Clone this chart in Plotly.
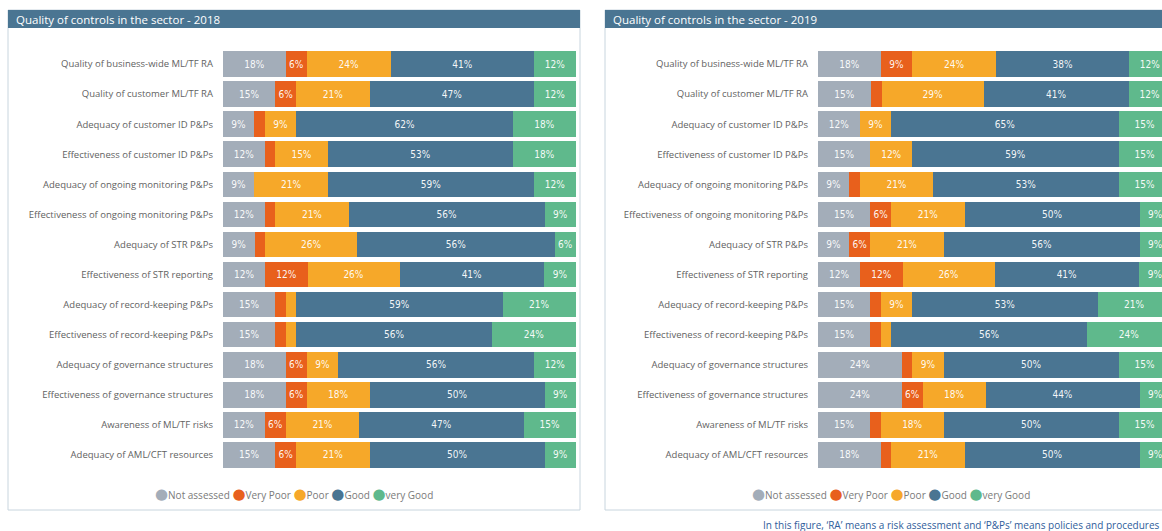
import plotly.graph_objects as go

W, H = 1162, 531

categories = [
    "Quality of business-wide ML/TF RA",
    "Quality of customer ML/TF RA",
    "Adequacy of customer ID P&Ps",
    "Effectiveness of customer ID P&Ps",
    "Adequacy of ongoing monitoring P&Ps",
    "Effectiveness of ongoing monitoring P&Ps",
    "Adequacy of STR P&Ps",
    "Effectiveness of STR reporting",
    "Adequacy of record-keeping P&Ps",
    "Effectiveness of record-keeping P&Ps",
    "Adequacy of governance structures",
    "Effectiveness of governance structures",
    "Awareness of ML/TF risks",
    "Adequacy of AML/CFT resources",
]

series_names = ["Not assessed", "Very Poor", "Poor", "Good", "very Good"]
series_colors = ["#a3adb9", "#e8601c", "#f6a829", "#4a7592", "#5fb98c"]

# 2018 shares (%)
not_assessed_2018 = [18, 15, 9, 12, 9, 12, 9, 12, 15, 15, 18, 18, 12, 15]
very_poor_2018 = [6, 6, 3, 3, 0, 3, 3, 12, 3, 3, 6, 6, 6, 6]
poor_2018 = [24, 21, 9, 15, 21, 21, 26, 26, 3, 3, 9, 18, 21, 21]
good_2018 = [41, 47, 62, 53, 59, 56, 56, 41, 59, 56, 56, 50, 47, 50]
very_good_2018 = [12, 12, 18, 18, 12, 9, 6, 9, 21, 24, 12, 9, 15, 9]

# 2019 shares (%)
not_assessed_2019 = [18, 15, 12, 15, 9, 15, 9, 12, 15, 15, 24, 24, 15, 18]
very_poor_2019 = [9, 3, 0, 0, 3, 6, 6, 12, 3, 3, 3, 6, 3, 3]
poor_2019 = [24, 29, 9, 12, 21, 21, 21, 26, 9, 3, 9, 18, 18, 21]
good_2019 = [38, 41, 65, 59, 53, 50, 56, 41, 53, 56, 50, 44, 50, 50]
very_good_2019 = [12, 12, 15, 15, 15, 9, 9, 9, 21, 24, 15, 9, 15, 9]

years = ["2018", "2019"]
data_by_year = {
    "2018": [not_assessed_2018, very_poor_2018, poor_2018, good_2018, very_good_2018],
    "2019": [not_assessed_2019, very_poor_2019, poor_2019, good_2019, very_good_2019],
}

footnote = "In this figure, \u2018RA\u2019 means a risk assessment and \u2018P&Ps\u2019 means policies and procedures"

label_font = "Open Sans, Noto Sans, sans-serif"
value_font = "DejaVu Sans Condensed, Roboto, sans-serif"


def px_x(v):
    return v / W


def px_y(v):
    return 1 - v / H


fig = go.Figure()

axis_suffix = {"2018": "", "2019": "2"}
for year in years:
    sfx = axis_suffix[year]
    for name, color, vals in zip(series_names, series_colors, data_by_year[year]):
        fig.add_trace(go.Bar(
            y=categories,
            x=vals,
            orientation="h",
            name=name,
            marker=dict(color=color, line=dict(width=0)),
            text=[f"{v}%" if v >= 5 else "" for v in vals],
            texttemplate="%{text}",
            textposition="inside",
            insidetextanchor="middle",
            textangle=0,
            constraintext="none",
            insidetextfont=dict(color="rgba(255,255,255,0.95)", size=10, family=value_font),
            xaxis="x" + sfx,
            yaxis="y" + sfx,
            showlegend=False,
            hoverinfo="skip",
        ))

# plot areas (pixel geometry of the two panels)
plot_top, plot_bottom = 49, 470
left_x0, left_x1 = 223, 576
right_x0 = 818
bar_span = left_x1 - left_x0
right_visible = (W - right_x0) / bar_span * 100

y_common = dict(
    domain=[px_y(plot_bottom), px_y(plot_top)],
    type="category",
    range=[len(categories) - 0.5, -0.5],
    showgrid=False, zeroline=False, showline=False, ticks="",
    ticklabelstandoff=9,
    tickfont=dict(family=label_font, size=9.5, color="#626262"),
)
x_common = dict(showgrid=False, zeroline=False, showline=False,
                showticklabels=False, ticks="")

fig.update_layout(
    width=W, height=H, autosize=False,
    margin=dict(l=0, r=0, t=0, b=0),
    paper_bgcolor="white", plot_bgcolor="white",
    barmode="stack", barnorm="percent", bargap=0.15,
    xaxis=dict(domain=[px_x(left_x0), px_x(left_x1)], range=[0, 100], **x_common),
    yaxis=dict(anchor="x", **y_common),
    xaxis2=dict(domain=[px_x(right_x0), 1.0], range=[0, right_visible], anchor="y2", **x_common),
    yaxis2=dict(anchor="x2", **y_common),
)

# panel frames, title bands and colour keys
panels = [("2018", 8, 580), ("2019", 605, 1177)]
shapes = []
annotations = []
for year, x0, x1 in panels:
    shapes.append(dict(type="rect", xref="paper", yref="paper",
                       x0=px_x(x0), x1=px_x(x1), y0=px_y(510), y1=px_y(10),
                       line=dict(color="#c8d5de", width=1), fillcolor="rgba(0,0,0,0)", layer="below"))
    shapes.append(dict(type="rect", xref="paper", yref="paper",
                       x0=px_x(x0), x1=px_x(x1), y0=px_y(28), y1=px_y(10),
                       line=dict(width=0), fillcolor="#4a7592", layer="below"))
    annotations.append(dict(xref="paper", yref="paper", x=px_x(x0 + 6), y=px_y(19),
                            xanchor="left", yanchor="middle", showarrow=False,
                            text=f"Quality of controls in the sector - {year}",
                            font=dict(family=label_font, size=11.5, color="white")))
    legend_parts = []
    for name, color in zip(series_names, series_colors):
        legend_parts.append(
            f'<span style="color:{color};font-family:DejaVu Sans;font-size:15px">\u25cf</span>{name}')
    annotations.append(dict(xref="paper", yref="paper", x=px_x((x0 + x1) / 2), y=px_y(494),
                            xanchor="center", yanchor="middle", showarrow=False,
                            text=" ".join(legend_parts),
                            font=dict(family=label_font, size=10, color="#7a7a7a")))

annotations.append(dict(xref="paper", yref="paper", x=px_x(W - 1), y=px_y(525),
                        xanchor="right", yanchor="middle", showarrow=False,
                        text=footnote,
                        font=dict(family=label_font, size=10, color="#2f5d9b")))

fig.update_layout(shapes=shapes, annotations=annotations)

fig.write_html("out.html")
